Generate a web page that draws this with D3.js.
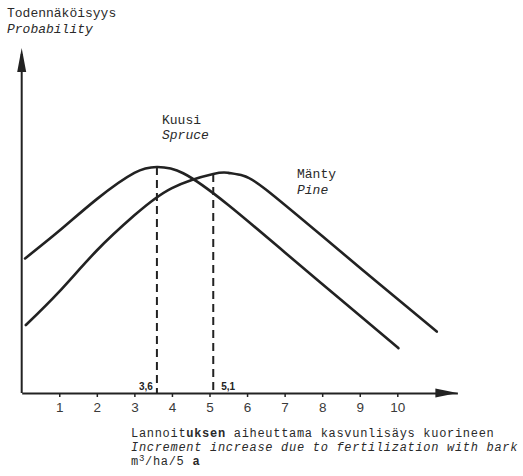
<!DOCTYPE html>
<html>
<head>
<meta charset="utf-8">
<script src="https://cdn.jsdelivr.net/npm/d3@7/dist/d3.min.js"></script>
<style>
  html, body { margin: 0; padding: 0; background: #fff; }
  svg { display: block; }
  .mono { font-family: "Liberation Mono", "DejaVu Sans Mono", monospace; font-size: 13px; fill: #2a2a2a; }
  .mono.small { font-size: 12px; letter-spacing: 0.7px; }
</style>
</head>
<body>
<script>
// Increment increase (m3/ha/5 a) and relative probability along each curve
const spruceX = [0.09, 1.0, 2.0, 3.0, 3.6, 4.3, 5.5, 7.0, 8.5, 10.03];
const spruceP = [0.390, 0.470, 0.562, 0.638, 0.655, 0.637, 0.545, 0.408, 0.270, 0.130];
const pineX = [0.11, 1.0, 2.0, 3.0, 4.0, 5.1, 5.5, 5.9, 6.5, 8.0, 9.5, 11.05];
const pineP = [0.197, 0.294, 0.413, 0.515, 0.594, 0.635, 0.638, 0.630, 0.590, 0.455, 0.318, 0.178];

// Most probable increment for each species
const modes = [
  { value: 3.6, label: "3,6", xs: spruceX, ps: spruceP },
  { value: 5.1, label: "5,1", xs: pineX, ps: pineP }
];

const tickValues = [1, 2, 3, 4, 5, 6, 7, 8, 9, 10];
const tickLabels = ["1", "2", "3", "4", "5", "6", "7", "8", "9", "10"];

const W = 523, H = 476;
const svg = d3.select("body").append("svg").attr("width", W).attr("height", H);

const x = d3.scaleLinear().domain([0, 11.6]).range([21.7, 457.4]);
const y = d3.scaleLinear().domain([0, 1]).range([393, 48]);

const ink = "#222";

// x axis
const xAxis = d3.axisBottom(x)
  .tickValues(tickValues)
  .tickFormat((d, i) => tickLabels[i])
  .tickSize(4)
  .tickSizeOuter(0)
  .tickPadding(5);

const gx = svg.append("g").attr("transform", `translate(0,${y(0)})`).call(xAxis);
gx.select(".domain").attr("stroke", ink).attr("stroke-width", 2);
gx.selectAll(".tick line").attr("stroke", ink).attr("stroke-width", 1.5);
gx.selectAll(".tick text")
  .attr("font-family", "Liberation Sans, Arial, sans-serif")
  .attr("font-size", 13.5)
  .attr("fill", "#3a3a3a");

// y axis (no ticks)
svg.append("line")
  .attr("x1", x(0)).attr("x2", x(0))
  .attr("y1", y(0)).attr("y2", y(1) + 6)
  .attr("stroke", ink).attr("stroke-width", 2);

// arrow heads
const xEnd = x.range()[1], yEnd = y.range()[1];
svg.append("path")
  .attr("d", `M${xEnd},${y(0)} L${xEnd - 22},${y(0) - 4.5} L${xEnd - 22},${y(0) + 4.5} Z`)
  .attr("fill", ink);
svg.append("path")
  .attr("d", `M${x(0)},${yEnd} L${x(0) - 4.5},${yEnd + 24} L${x(0) + 4.5},${yEnd + 24} Z`)
  .attr("fill", ink);

// curves
const line = d3.line()
  .x(d => x(d[0]))
  .y(d => y(d[1]))
  .curve(d3.curveNatural);

[[spruceX, spruceP], [pineX, pineP]].forEach(([xs, ps]) => {
  svg.append("path")
    .datum(xs.map((v, i) => [v, ps[i]]))
    .attr("d", line)
    .attr("fill", "none")
    .attr("stroke", ink)
    .attr("stroke-width", 2.6)
    .attr("stroke-linecap", "round");
});

// dashed drop lines at the mode of each curve
function interp(xs, ps, v) {
  for (let i = 0; i < xs.length - 1; i++) {
    if (v >= xs[i] && v <= xs[i + 1]) {
      const t = (v - xs[i]) / (xs[i + 1] - xs[i]);
      return ps[i] + t * (ps[i + 1] - ps[i]);
    }
  }
  return 0;
}

modes.forEach(m => {
  const top = interp(m.xs, m.ps, m.value);
  svg.append("line")
    .attr("x1", x(m.value)).attr("x2", x(m.value))
    .attr("y1", y(top)).attr("y2", y(0))
    .attr("stroke", ink)
    .attr("stroke-width", 2)
    .attr("stroke-dasharray", "8,5");
});

// mode value labels
svg.append("text")
  .attr("x", x(modes[0].value) - 4).attr("y", 390)
  .attr("text-anchor", "end")
  .attr("font-family", "Liberation Sans, Arial, sans-serif")
  .attr("font-weight", "bold").attr("font-size", 10)
  .attr("fill", ink)
  .text(modes[0].label);
svg.append("text")
  .attr("x", x(modes[1].value) + 8).attr("y", 390)
  .attr("text-anchor", "start")
  .attr("font-family", "Liberation Sans, Arial, sans-serif")
  .attr("font-weight", "bold").attr("font-size", 10)
  .attr("fill", ink)
  .text(modes[1].label);

// y axis title
svg.append("text").attr("class", "mono").attr("x", 7).attr("y", 17).text("Todennäköisyys");
svg.append("text").attr("class", "mono").attr("x", 7).attr("y", 33).attr("font-style", "italic").text("Probability");

// series labels
svg.append("text").attr("class", "mono").attr("x", 162).attr("y", 124).text("Kuusi");
svg.append("text").attr("class", "mono").attr("x", 162).attr("y", 139).attr("font-style", "italic").text("Spruce");
svg.append("text").attr("class", "mono").attr("x", 297).attr("y", 178).text("Mänty");
svg.append("text").attr("class", "mono").attr("x", 297).attr("y", 194).attr("font-style", "italic").text("Pine");

// x axis title
const t1 = svg.append("text").attr("class", "mono small").attr("x", 131).attr("y", 437);
t1.append("tspan").text("Lannoit");
t1.append("tspan").attr("font-weight", "bold").text("uksen");
t1.append("tspan").text(" aiheuttama kasvunlisäys kuorineen");
svg.append("text").attr("class", "mono small").attr("x", 131).attr("y", 451).attr("font-style", "italic")
  .text("Increment increase due to fertilization with bark");
const t3 = svg.append("text").attr("class", "mono small").attr("x", 131).attr("y", 465);
t3.append("tspan").text("m");
t3.append("tspan").attr("dy", -4).attr("font-size", 9).text("3");
t3.append("tspan").attr("dy", 4).text("/ha/5 ");
t3.append("tspan").attr("font-weight", "bold").text("a");
</script>
</body>
</html>
